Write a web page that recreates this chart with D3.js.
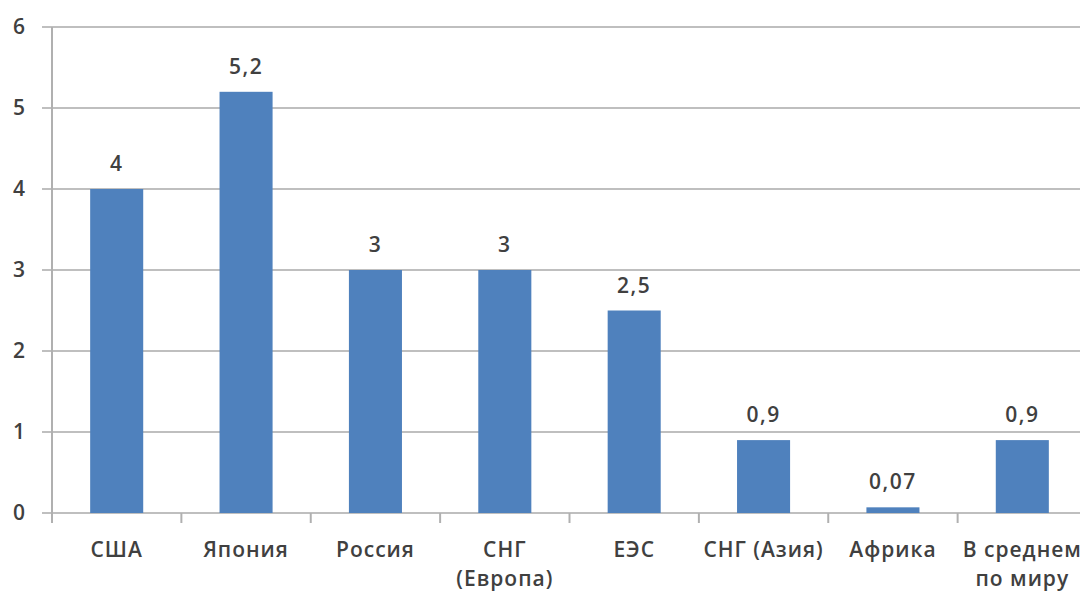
<!DOCTYPE html>
<html>
<head>
<meta charset="utf-8">
<script src="https://cdn.jsdelivr.net/npm/d3@7"></script>
<style>
  html, body { margin: 0; padding: 0; background: #fff; }
  svg { display: block; }
  text { font-family: "Open Sans", "Noto Sans", sans-serif; font-weight: 600; fill: #404040; }
</style>
</head>
<body>
<svg id="chart" width="1080" height="593"></svg>
<script>
// Categories (multi-line labels split on "|") and values
const categories = ["США", "Япония", "Россия", "СНГ|(Европа)", "ЕЭС", "СНГ (Азия)", "Африка", "В среднем|по миру"];
const values = [4, 5.2, 3, 3, 2.5, 0.9, 0.07, 0.9];
const valueLabels = ["4", "5,2", "3", "3", "2,5", "0,9", "0,07", "0,9"];
const yTicks = [0, 1, 2, 3, 4, 5, 6];

(function draw() {
  const svg = d3.select("#chart");
  const W = 1080;
  const plotLeft = 52, plotRight = 1087, plotTop = 27, plotBottom = 513;
  const fontSize = 21;

  const x = d3.scaleBand()
    .domain(categories)
    .range([plotLeft, plotRight])
    .paddingInner(0.59)
    .paddingOuter(0.295);

  const y = d3.scaleLinear().domain([0, 6]).range([plotBottom, plotTop]);

  // horizontal gridlines
  svg.append("g")
    .selectAll("line")
    .data(yTicks)
    .join("line")
    .attr("x1", plotLeft - 10)
    .attr("x2", W)
    .attr("y1", d => y(d))
    .attr("y2", d => y(d))
    .attr("stroke", "#bfbfbf")
    .attr("stroke-width", 2);

  // y tick labels
  svg.append("g")
    .selectAll("text")
    .data(yTicks)
    .join("text")
    .attr("x", 19)
    .attr("y", d => y(d))
    .attr("dy", "0.35em")
    .attr("text-anchor", "middle")
    .attr("font-size", fontSize)
    .text(d => d);

  // y axis line
  svg.append("line")
    .attr("x1", plotLeft).attr("x2", plotLeft)
    .attr("y1", plotTop).attr("y2", plotBottom + 10)
    .attr("stroke", "#b0b0b0")
    .attr("stroke-width", 2);

  // category tick marks at band boundaries
  const step = x.step();
  const boundaries = d3.range(categories.length + 1).map(i => plotLeft + i * step);
  svg.append("g")
    .selectAll("line")
    .data(boundaries)
    .join("line")
    .attr("x1", d => d).attr("x2", d => d)
    .attr("y1", plotBottom).attr("y2", plotBottom + 10)
    .attr("stroke", "#b0b0b0")
    .attr("stroke-width", 2);

  // bars
  svg.append("g")
    .selectAll("rect")
    .data(values)
    .join("rect")
    .attr("x", (d, i) => x(categories[i]))
    .attr("width", x.bandwidth())
    .attr("y", d => y(d))
    .attr("height", d => y(0) - y(d))
    .attr("fill", "#4f81bd");

  // value labels
  svg.append("g")
    .selectAll("text")
    .data(values)
    .join("text")
    .attr("x", (d, i) => x(categories[i]) + x.bandwidth() / 2)
    .attr("y", d => y(d) - 18)
    .attr("text-anchor", "middle")
    .attr("font-size", fontSize)
    .attr("letter-spacing", 1.5)
    .text((d, i) => valueLabels[i]);

  // category labels
  const catG = svg.append("g");
  categories.forEach(c => {
    const cx = x(c) + x.bandwidth() / 2;
    const t = catG.append("text")
      .attr("x", cx)
      .attr("y", 557)
      .attr("text-anchor", "middle")
      .attr("font-size", fontSize)
      .attr("letter-spacing", 1);
    c.split("|").forEach((line, j) => {
      t.append("tspan")
        .attr("x", cx)
        .attr("y", 557 + j * 29)
        .text(line);
    });
  });
})();
</script>
</body>
</html>
